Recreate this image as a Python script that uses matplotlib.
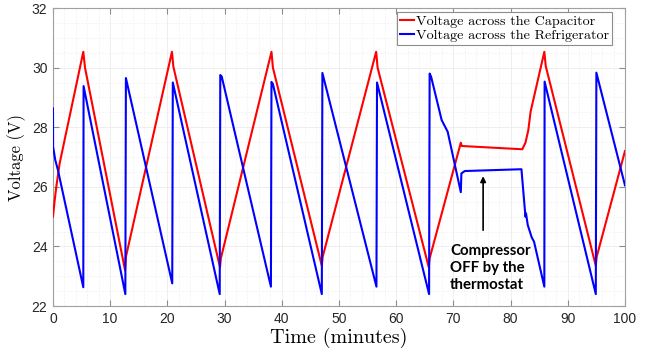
import matplotlib
matplotlib.use("Agg")
import matplotlib.pyplot as plt
from matplotlib.ticker import MultipleLocator

# capacitor voltage (red)
t_cap = [0, 0.3, 0.58, 1.17, 5.3, 5.6, 12.6, 12.75, 20.8, 21.05, 29.2, 29.35,
         38.2, 38.45, 47.0, 47.15, 56.5, 56.75, 65.7, 65.85, 71.3, 71.45,
         82.05, 82.6, 83.1, 83.5, 85.9, 86.15, 94.9, 95.05, 100]
v_cap = [25.0, 25.55, 26.0, 26.79, 30.53, 30.0, 23.2, 23.65, 30.53, 30.03, 23.3, 23.6,
         30.53, 30.0, 23.35, 23.65, 30.53, 30.0, 23.3, 23.6, 27.48, 27.37,
         27.26, 27.48, 27.9, 28.52, 30.53, 30.05, 23.35, 23.65, 27.2]

# refrigerator voltage (blue)
t_ref = [0, 0.02, 0.4, 0.87, 5.3, 5.35, 12.65, 12.75, 20.85, 20.95, 29.15, 29.25, 29.5,
         38.1, 38.2, 38.45, 47.0, 47.1, 56.55, 56.65, 65.75, 65.85, 66.1,
         67.95, 69.0, 71.3, 71.4, 72.0, 81.9, 82.6, 82.7, 83.0, 83.7, 84.1,
         85.9, 85.95, 94.9, 95.0, 100]
v_ref = [28.63, 27.35, 26.9, 26.56, 22.63, 29.38, 22.4, 29.65, 22.76, 29.5, 22.4, 29.75, 29.7,
         22.65, 29.52, 29.45, 22.4, 29.82, 22.65, 29.5, 22.4, 29.8, 29.7,
         28.24, 27.85, 25.82, 26.45, 26.53, 26.59, 25.0, 25.11, 24.72, 24.3, 24.16,
         22.65, 29.53, 22.4, 29.83, 26.05]

fig = plt.figure(figsize=(6.5, 3.56), dpi=100)
ax = fig.add_axes([0.0815, 0.1404, 0.88, 0.8371])

ax.plot(t_cap, v_cap, color="#ff0000", lw=1.5, zorder=3, label="Voltage across the Capacitor")
ax.plot(t_ref, v_ref, color="#0000ff", lw=1.5, zorder=3, label="Voltage across the Refrigerator")

ax.set_xlim(0, 100)
ax.set_ylim(22, 32)
ax.xaxis.set_major_locator(MultipleLocator(10))
ax.yaxis.set_major_locator(MultipleLocator(2))
ax.xaxis.set_minor_locator(MultipleLocator(2))
ax.yaxis.set_minor_locator(MultipleLocator(0.5))

ax.grid(which="major", color="#ebebeb", lw=0.6)
ax.grid(which="minor", color="#f0f0f0", lw=0.5, ls=(0, (3, 2)))
ax.set_axisbelow(True)

ax.tick_params(which="major", direction="in", length=4, color="#8c8c8c",
               top=True, right=True, labelsize=10, labelcolor="#262626", pad=4)
ax.tick_params(which="minor", length=0)
for lab in ax.get_xticklabels() + ax.get_yticklabels():
    lab.set_fontfamily("Liberation Sans")
for s in ax.spines.values():
    s.set_color("#a0a0a0")
    s.set_linewidth(0.8)

ax.set_xlabel("Time (minutes)", fontfamily="cmr10", fontsize=14.5, labelpad=2)
ax.set_ylabel("Voltage (V)", fontfamily="cmr10", fontsize=12, labelpad=4)

leg = ax.legend(loc="upper right", prop={"family": "cmr10", "size": 10.2},
                handlelength=1.0, handletextpad=0.15, borderpad=0.2,
                labelspacing=0.1, fancybox=False, framealpha=1,
                edgecolor="#8c8c8c", borderaxespad=0.3, bbox_to_anchor=(0.985, 1.0))
leg.get_frame().set_linewidth(0.8)
leg.set_zorder(5)

ax.annotate("", xy=(75.2, 26.45), xytext=(75.2, 24.45),
            arrowprops=dict(arrowstyle="-|>", color="black", lw=1.2, mutation_scale=8))
ax.text(69.4, 23.27, "Compressor\nOFF by the\nthermostat", fontfamily="Lato",
        fontweight="bold", fontsize=10.8, ha="left", va="center", linespacing=1.3)

fig.savefig("out.png", dpi=100)
